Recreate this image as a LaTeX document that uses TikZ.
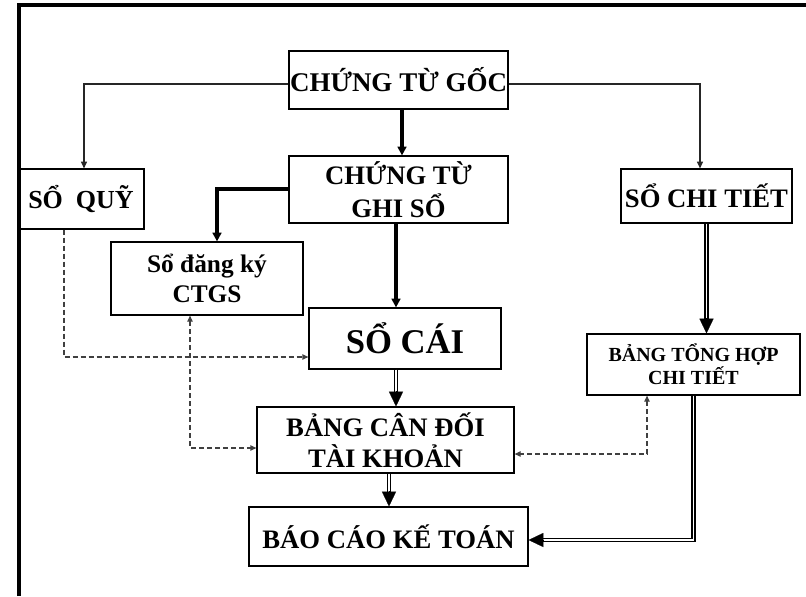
\documentclass[tikz,border=0pt]{standalone}
\usepackage{fontspec}
\setmainfont{Liberation Serif}
\usetikzlibrary{arrows.meta,calc}
\begin{document}
\begin{tikzpicture}[x=0.75pt,y=-0.75pt,
  box/.style={draw=black, line width=0.9pt, inner sep=0pt, align=center},
  thinarr/.style={draw=black!85, line width=1pt, -{Triangle[length=5pt,width=4.5pt]}},
  thickarr/.style={draw=black, line width=2.6pt, -{Triangle[length=6.5pt,width=6.5pt]}},
  dbl/.style={draw=black, double=white, double distance=1.1pt, line width=1.1pt, shorten >=8pt},
  bigtip/.style={draw=black, fill=black, line width=0.1pt, -{Triangle[length=11pt,width=10.5pt]}},
  dashline/.style={draw=black!75, line width=0.9pt, dash pattern=on 3.75pt off 2.25pt,
     >={Triangle[length=4.5pt,width=4pt]}}
]
\useasboundingbox (0,0) rectangle (806,596);
% frame
\draw[line width=2.5pt] (19,596) -- (19,5) -- (806,5);

% boxes
\node[box, minimum width=164.25pt, minimum height=43.5pt,
  font=\fontsize{20.25pt}{24pt}\selectfont\bfseries] (goc) at (398.5,80) {CHỨNG TỪ GỐC};
\node[box, minimum width=164.25pt, minimum height=50.25pt,
  font=\fontsize{20pt}{24.5pt}\selectfont\bfseries] (ghiso) at (398.5,189.5) {CHỨNG TỪ\\GHI SỔ};
\node[box, minimum width=94.5pt, minimum height=45pt,
  font=\fontsize{19.5pt}{23pt}\selectfont\bfseries] (soquy) at (81,199) {SỔ\ \ QUỸ};
\node[box, minimum width=128.25pt, minimum height=40.5pt,
  font=\fontsize{20pt}{24pt}\selectfont\bfseries] (chitiet) at (706.5,196) {SỔ CHI TIẾT};
\node[box, minimum width=144pt, minimum height=54.75pt,
  font=\fontsize{19pt}{23pt}\selectfont\bfseries] (dangky) at (207,278.5) {Sổ đăng ký\\CTGS};
\node[box, minimum width=144pt, minimum height=45.75pt,
  font=\fontsize{26pt}{30pt}\selectfont\bfseries] (socai) at (405,338.5) {SỔ CÁI};
\node[box, minimum width=159.75pt, minimum height=45.75pt,
  font=\fontsize{15pt}{17.5pt}\selectfont\bfseries] (bth) at (693.5,364.5) {BẢNG TỔNG HỢP\\CHI TIẾT};
\node[box, minimum width=192.75pt, minimum height=49.5pt,
  font=\fontsize{20pt}{23pt}\selectfont\bfseries] (bcd) at (385.5,440) {BẢNG CÂN ĐỐI\\TÀI KHOẢN};
\node[box, minimum width=209.25pt, minimum height=44.25pt,
  font=\fontsize{20pt}{24pt}\selectfont\bfseries] (baocao) at (388.5,536.5) {BÁO CÁO KẾ TOÁN};

% thin connectors from CHỨNG TỪ GỐC
\draw[thinarr] ($(goc.west)+(0,4)$) -| ($(soquy.north)+(3,0)$);
\draw[thinarr] ($(goc.east)+(0,4)$) -| ($(chitiet.north)+(-6.5,0)$);

% thick connectors
\draw[thickarr] ($(goc.south)+(3.5,0)$) -- ($(ghiso.north)+(3.5,0)$);
\draw[thickarr, line width=3.3pt] ($(ghiso.west)+(0,-0.5)$) -| ($(dangky.north)+(10,0)$);
\draw[thickarr] ($(ghiso.south)+(-2.5,0)$) -- ($(socai.north)+(-9,0)$);

% double connectors
\coordinate (e1) at (chitiet.south |- bth.north);
\draw[dbl] (chitiet.south) -- (e1);
\draw[bigtip] ($(e1)+(0,-15)$) -- (e1);

\coordinate (s2) at ($(socai.south)+(-9,0)$);
\coordinate (e2) at (s2 |- bcd.north);
\draw[dbl] (s2) -- (e2);
\draw[bigtip] ($(e2)+(0,-15)$) -- (e2);

\coordinate (s3) at ($(bcd.south)+(3.5,0)$);
\coordinate (e3) at (s3 |- baocao.north);
\draw[dbl] (s3) -- (e3);
\draw[bigtip] ($(e3)+(0,-15)$) -- (e3);

\coordinate (e4) at ($(baocao.east)+(0,3.5)$);
\draw[dbl] (bth.south) |- (e4);
\draw[bigtip] ($(e4)+(15,0)$) -- (e4);

% dashed connectors
\draw[dashline, ->] ($(soquy.south)+(-17,0)$) |- ($(socai.west)+(0,18.5)$);
\draw[dashline, <->] ($(dangky.south)+(-17,0)$) |- ($(bcd.west)+(0,8)$);
\draw[dashline, <->] ($(bth.south)+(-46.5,0)$) |- ($(bcd.east)+(0,14)$);
\end{tikzpicture}
\end{document}
